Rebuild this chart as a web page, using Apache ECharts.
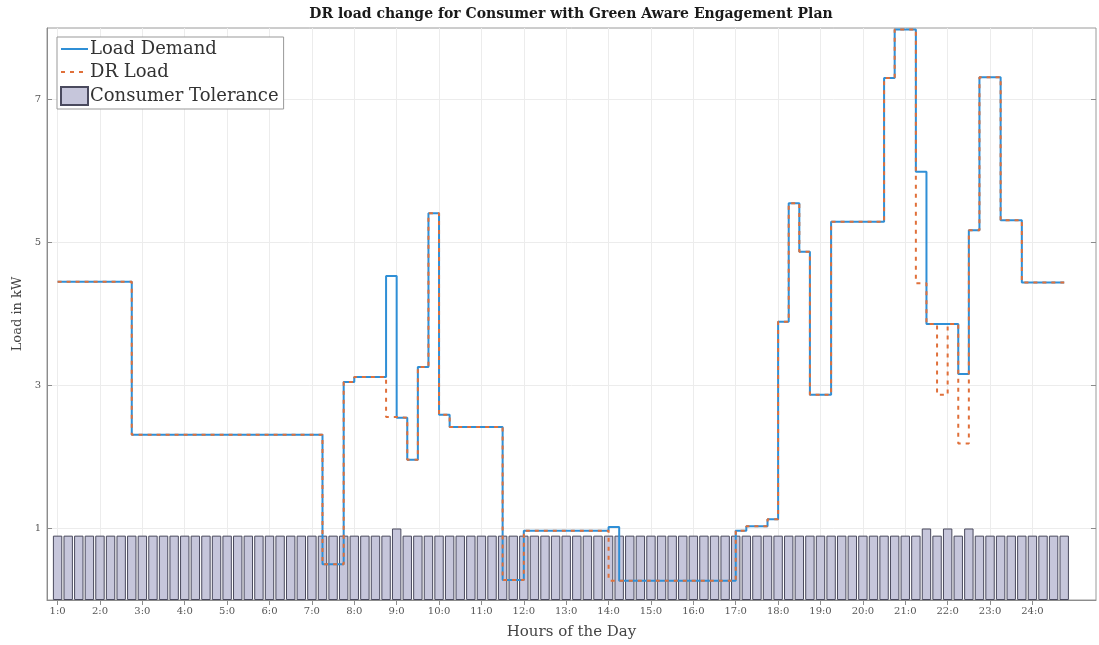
<!DOCTYPE html>
<html><head><meta charset="utf-8">
<script src="https://cdn.jsdelivr.net/npm/echarts@6/dist/echarts.min.js"></script>
<style>html,body{margin:0;padding:0;background:#fff}#c{width:1099px;height:645px}</style>
</head><body><div id="c"></div><script>
const chartTitle = 'DR load change for Consumer with Green Aware Engagement Plan';
const slotStartHour = 1, slotStepHours = 0.25; // 96 fifteen-minute slots

// one row per hour, 4 slots each
const loadDemand = [
  4.45,4.45,4.45,4.45,
  4.45,4.45,4.45,2.31,
  2.31,2.31,2.31,2.31,
  2.31,2.31,2.31,2.31,
  2.31,2.31,2.31,2.31,
  2.31,2.31,2.31,2.31,
  2.31,0.50,0.50,3.05,
  3.12,3.12,3.12,4.53,
  2.55,1.96,3.26,5.41,
  2.59,2.42,2.42,2.42,
  2.42,2.42,0.28,0.28,
  0.97,0.97,0.97,0.97,
  0.97,0.97,0.97,0.97,
  1.02,0.27,0.27,0.27,
  0.27,0.27,0.27,0.27,
  0.27,0.27,0.27,0.27,
  0.97,1.03,1.03,1.13,
  3.89,5.55,4.87,2.87,
  2.87,5.29,5.29,5.29,
  5.29,5.29,7.30,7.98,
  7.98,5.99,3.86,3.86,
  3.86,3.16,5.17,7.31,
  7.31,5.31,5.31,4.44,
  4.44,4.44,4.44,4.44
];
const drLoad = [
  4.45,4.45,4.45,4.45,
  4.45,4.45,4.45,2.31,
  2.31,2.31,2.31,2.31,
  2.31,2.31,2.31,2.31,
  2.31,2.31,2.31,2.31,
  2.31,2.31,2.31,2.31,
  2.31,0.50,0.50,3.05,
  3.12,3.12,3.12,2.56,
  2.55,1.96,3.26,5.41,
  2.59,2.42,2.42,2.42,
  2.42,2.42,0.28,0.28,
  0.97,0.97,0.97,0.97,
  0.97,0.97,0.97,0.97,
  0.27,0.27,0.27,0.27,
  0.27,0.27,0.27,0.27,
  0.27,0.27,0.27,0.27,
  0.97,1.03,1.03,1.13,
  3.89,5.55,4.87,2.87,
  2.87,5.29,5.29,5.29,
  5.29,5.29,7.30,7.98,
  7.98,4.43,3.86,2.87,
  3.86,2.19,5.17,7.31,
  7.31,5.31,5.31,4.44,
  4.44,4.44,4.44,4.44
];
const consumerTolerance = [
  0.9,0.9,0.9,0.9, 0.9,0.9,0.9,0.9, 0.9,0.9,0.9,0.9, 0.9,0.9,0.9,0.9,
  0.9,0.9,0.9,0.9, 0.9,0.9,0.9,0.9, 0.9,0.9,0.9,0.9, 0.9,0.9,0.9,0.9,
  1.0,0.9,0.9,0.9, 0.9,0.9,0.9,0.9, 0.9,0.9,0.9,0.9, 0.9,0.9,0.9,0.9,
  0.9,0.9,0.9,0.9, 0.9,0.9,0.9,0.9, 0.9,0.9,0.9,0.9, 0.9,0.9,0.9,0.9,
  0.9,0.9,0.9,0.9, 0.9,0.9,0.9,0.9, 0.9,0.9,0.9,0.9, 0.9,0.9,0.9,0.9,
  0.9,0.9,1.0,0.9, 1.0,0.9,1.0,0.9, 0.9,0.9,0.9,0.9, 0.9,0.9,0.9,0.9
];
const tickHours = [1,2,3,4,5,6,7,8,9,10,11,12,13,14,15,16,17,18,19,20,21,22,23,24];
const tickLabels = ['1:0','2:0','3:0','4:0','5:0','6:0','7:0','8:0','9:0','10:0','11:0','12:0',
  '13:0','14:0','15:0','16:0','17:0','18:0','19:0','20:0','21:0','22:0','23:0','24:0'];
const yTicks = [1,3,5,7];

const slotHours = loadDemand.map((_, i) => slotStartHour + i * slotStepHours);
const toPairs = arr => arr.map((v, i) => [slotHours[i], v]);
const SERIF = '"DejaVu Serif", "Liberation Serif", serif';
const AX = '#8c8c8c';
const BLUE = '#2f8fd6', ORANGE = '#e0703a';

const chart = echarts.init(document.getElementById('c'), null, {renderer: 'canvas'});
chart.setOption({
  animation: false,
  backgroundColor: '#fff',
  graphic: [{
    type: 'text', x: 571, y: 14,
    style: {text: chartTitle, fontFamily: SERIF, fontWeight: 'bold', fontSize: 14,
      fill: '#1a1a1a', textAlign: 'center', textVerticalAlign: 'middle'}
  }],
  grid: {left: 47, right: 3, top: 28, bottom: 45, show: true, borderColor: '#9a9a9a', borderWidth: 1},
  legend: {
    orient: 'vertical', left: 57, top: 37,
    data: [
      {name: 'Load Demand', itemStyle: {opacity: 0}},
      {name: 'DR Load', itemStyle: {opacity: 0}},
      {name: 'Consumer Tolerance', icon: 'rect'}
    ],
    itemWidth: 27, itemHeight: 18, itemGap: 5,
    textStyle: {fontFamily: SERIF, fontSize: 18, color: '#333', padding: [0,0,0,-3]},
    backgroundColor: '#fff', borderColor: '#999', borderWidth: 1, padding: [3, 5, 3, 3]
  },
  xAxis: [{
    type: 'value', min: 0.75, max: 25.5, position: 'bottom',
    name: 'Hours of the Day', nameLocation: 'middle', nameGap: 25,
    nameTextStyle: {fontFamily: SERIF, fontSize: 15, color: '#444'},
    axisLine: {show: true, lineStyle: {color: AX}},
    axisTick: {show: true, inside: true, length: 5, customValues: tickHours, lineStyle: {color: AX}},
    axisLabel: {customValues: tickHours, formatter: v => tickLabels[tickHours.indexOf(v)],
      fontFamily: SERIF, fontSize: 10, color: '#555', margin: 6},
    splitLine: {show: true, lineStyle: {color: '#ececec', width: 1}}
  }, {
    type: 'value', min: 0.75, max: 25.5, position: 'top',
    axisLine: {show: false},
    axisTick: {show: true, inside: true, length: 5, customValues: tickHours, lineStyle: {color: AX}},
    axisLabel: {show: false}, splitLine: {show: false}
  }],
  yAxis: [{
    type: 'value', min: 0, max: 8, position: 'left',
    name: 'Load in kW', nameLocation: 'middle', nameGap: 22,
    nameTextStyle: {fontFamily: SERIF, fontSize: 13, color: '#444'},
    axisLine: {show: true, lineStyle: {color: AX}},
    axisTick: {show: true, inside: true, length: 5, customValues: yTicks, lineStyle: {color: AX}},
    axisLabel: {customValues: yTicks, fontFamily: SERIF, fontSize: 10, color: '#555', margin: 6},
    splitLine: {show: true, lineStyle: {color: '#ececec', width: 1}}
  }, {
    type: 'value', min: 0, max: 8, position: 'right',
    axisLine: {show: false},
    axisTick: {show: true, inside: true, length: 5, customValues: yTicks, lineStyle: {color: AX}},
    axisLabel: {show: false}, splitLine: {show: false}
  }],
  series: [{
    name: 'Consumer Tolerance', type: 'bar', xAxisIndex: 0, yAxisIndex: 0,
    data: toPairs(consumerTolerance), barWidth: 9.4, z: 1,
    itemStyle: {color: '#c6c6db', borderColor: '#4a4a5e', borderWidth: 1}
  }, {
    name: 'Load Demand', type: 'line', step: 'end', xAxisIndex: 0, yAxisIndex: 0,
    data: toPairs(loadDemand), symbol: 'none', z: 3,
    itemStyle: {color: BLUE},
    lineStyle: {color: BLUE, width: 2}
  }, {
    name: 'DR Load', type: 'line', step: 'end', xAxisIndex: 0, yAxisIndex: 0,
    data: toPairs(drLoad), symbol: 'none', z: 4,
    itemStyle: {color: ORANGE},
    lineStyle: {color: ORANGE, width: 2, type: [4, 5]}
  }]
});
</script></body></html>
